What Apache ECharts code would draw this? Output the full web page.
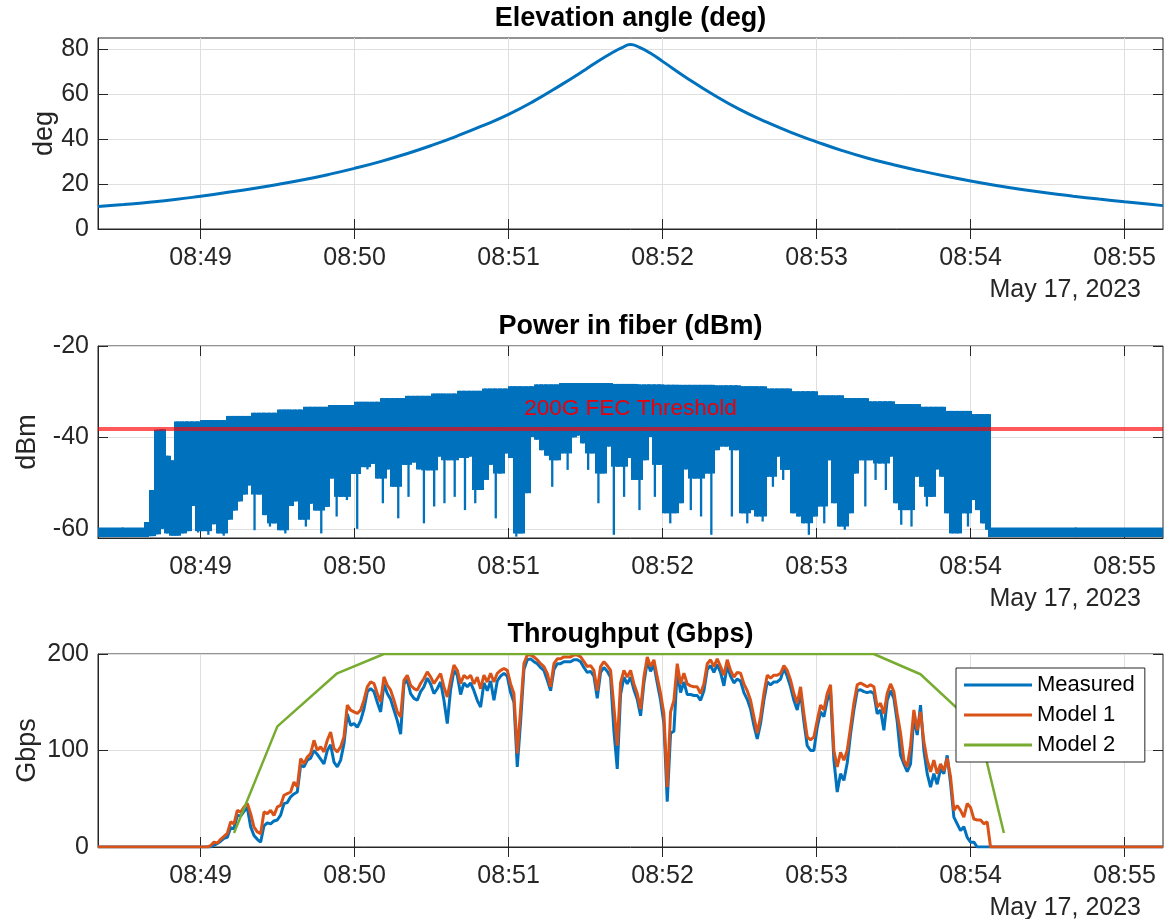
<!DOCTYPE html>
<html>
<head>
<meta charset="utf-8">
<title>Satellite pass</title>
<script src="https://cdn.jsdelivr.net/npm/echarts@6/dist/echarts.min.js"></script>
<style>
html,body{margin:0;padding:0;background:#fff;}
#chart{width:1174px;height:919px;}
</style>
</head>
<body>
<div id="chart"></div>
<script>
//时间单位: 距 08:48:00 的秒数
var xMin = 20, xMax = 435;
var tickTimes = [60, 120, 180, 240, 300, 360, 420];
var tickLabels = ['08:49', '08:50', '08:51', '08:52', '08:53', '08:54', '08:55'];
var dateLabel = 'May 17, 2023';

//仰角 (deg)
var elevTime = [20, 30, 40, 50, 60, 70, 80, 90, 100, 110, 120, 130, 140, 150, 160, 170, 180, 190, 200, 210, 215, 220, 224, 227.5,
	231, 235, 240, 250, 260, 270, 280, 290, 300, 310, 320, 330, 340, 350, 360, 370, 380, 390, 400, 410, 420, 430, 435];
var elevDeg = [10.0, 10.9, 11.9, 13.1, 14.6, 16.2, 17.9, 19.8, 21.9, 24.3, 27.0, 30.0, 33.4, 37.2, 41.4, 46.0, 51.0, 57.0, 63.8, 71.0, 74.8, 78.2, 80.6, 82.1,
	80.8, 78.4, 74.6, 66.8, 59.6, 53.2, 47.8, 43.0, 38.8, 34.9, 31.5, 28.6, 26.0, 23.6, 21.4, 19.4, 17.6, 16.0, 14.6, 13.3, 12.1, 11.0, 10.4];

//光纤功率 (dBm)
var idleTop = -59.7, idleLow = -61.8;
var idleSpans = [[20, 39.2], [367, 435]];
var riseTime = [38, 40, 42, 44, 46, 48];
var riseTop = [-58.5, -51.5, -38.3, -38.2, -44.0, -45.0];
var riseLow = [-61.6, -61.6, -61.2, -60.0, -61.0, -61.5];
var powerStart = 50, powerStep = 2, powerEnd = 367.1;
//上包络, 每10s一个
var powerTopEnv = [-36.5, -36.2, -35.3, -34.6, -33.9, -33.3, -32.9, -32.2, -31.4, -30.9, -30.4, -29.8, -29.3, -28.8, -28.4, -28.1,
	-28.1, -28.3, -28.4, -28.5, -28.5, -28.6, -28.8, -29.3, -29.9, -30.8, -31.4, -32.1, -32.7, -33.3, -34.2, -34.9];
//下包络, 每2s一个
var powerLow = [
	-61.5, -61.0, -60.5, -55.0, -60.8, -60.5, -61.3, -59.0, -61.0, -61.5,
	-58.0, -56.0, -54.0, -52.5, -50.5, -60.3, -52.5, -57.0, -59.5, -58.8,
	-60.3, -61.0, -55.0, -54.0, -58.0, -59.5, -54.5, -56.0, -61.0, -55.2,
	-49.0, -57.3, -53.0, -53.7, -48.0, -60.0, -46.5, -47.0, -45.8, -49.0,
	-54.4, -47.0, -50.8, -57.7, -46.0, -53.0, -45.5, -47.0, -58.8, -47.2,
	-55.1, -44.2, -54.4, -45.0, -53.0, -44.5, -55.9, -44.2, -54.4, -51.5,
	-49.3, -46.0, -57.7, -47.9, -43.5, -44.5, -61.7, -61.0, -52.2, -39.9,
	-40.5, -42.8, -44.0, -50.8, -45.0, -43.5, -47.1, -40.0, -39.6, -41.3,
	-47.1, -43.5, -54.4, -47.9, -42.0, -61.3, -46.4, -53.0, -44.5, -49.3,
	-55.9, -45.0, -39.9, -53.0, -46.0, -56.6, -58.8, -56.6, -54.4, -47.0,
	-55.9, -49.0, -57.3, -47.9, -61.3, -42.8,
	-42.0, -42.0, -57.3, -42.8, -56.6, -58.8, -55.9, -57.3, -58.4, -48.6,
	-50.8, -44.2, -49.3, -47.1, -56.6, -57.3, -58.8, -61.3, -57.3, -55.1,
	-58.8, -45.0, -54.4, -59.5, -60.2, -56.6, -47.9, -45.0, -55.1, -45.0,
	-49.3, -45.7, -51.5, -44.2, -54.4, -59.1, -55.9, -59.5, -48.6, -50.8,
	-55.1, -53.0, -47.0, -48.6, -56.6, -61.0, -61.0, -56.6, -59.5, -53.7,
	-55.9, -58.8, -60.2];
var fecThreshold = -38;
var fecLabel = '200G FEC Threshold';

//吞吐量 (Gbps)
var tpStart = 60, tpStep = 1.2987;
var measured = [
	0, 0, 0, 0, 2, 3.5, 6, 9, 10, 20,
	19, 33, 32, 37, 41, 21, 12, 8, 5, 22,
	25, 24, 27, 28, 33, 45, 46, 52, 55, 57,
	85, 83, 90, 92, 100, 96, 91, 86, 100, 106,
	88, 83, 90, 107, 138, 126, 128, 124, 131, 143,
	161, 164, 161, 150, 140, 169, 159, 153, 142, 131,
	117, 169, 173, 159, 154, 152, 161, 166, 175, 169,
	159, 164, 171, 152, 128, 163, 183, 178, 158, 170,
	166,
	170, 162, 152, 145, 170, 162, 172, 152, 172, 177,
	180, 177, 160, 150, 83, 130, 184, 194, 195, 192,
	190, 186, 183, 173, 162, 184, 190, 190, 192, 192,
	192, 194, 194, 192, 186, 181, 182, 177, 154, 181,
	186, 182, 176, 120, 81, 158, 176, 169, 176, 163,
	153, 136, 170, 192, 182, 189, 170, 152, 128, 47,
	118, 120, 183, 160, 171, 158, 158, 157, 157, 152,
	162, 184, 188, 181, 189, 181, 167, 188, 177, 170,
	174,
	172, 160, 153, 143, 126, 112, 128, 152, 171, 168,
	171, 171, 174, 185, 177, 166, 152, 142, 160, 130,
	105, 100, 100, 124, 140, 135, 152, 160, 90, 57,
	76, 69, 87, 117, 142, 162, 163, 161, 160, 161,
	159, 138, 142, 121, 152, 162, 154, 130, 95, 86,
	78, 86, 135, 116, 147, 100, 76, 62, 76, 65,
	81, 76, 95, 66, 31, 24, 17, 21, 10, 5,
	5, 0, 0, 0, 0, 0];
var model1 = [
	0, 0, 0, 1.5, 5, 4, 8, 11, 14, 26,
	24, 38, 36, 41.5, 45, 34.6, 20.7, 15.6, 13.8, 36.3,
	34.6, 38, 32.8, 41.5, 43.2, 53.6, 55.3, 57, 67.4, 62.2,
	91.6, 86.4, 93.3, 96.8, 110.6, 100.3, 103.7, 98.5, 110.6, 119.2,
	102, 98.5, 103.7, 114.1, 147, 141.8, 140.1, 138.4, 141.8, 152.2,
	165.9, 171.1, 169.4, 159.1, 150.4, 176.3, 167.6, 162.5, 152.2, 140.1,
	134.9, 172.8, 178, 167.6, 164.2, 162.5, 169.4, 174.6, 181.5, 176.3,
	169.4, 174.6, 179.7, 165.9, 155.5, 172.8, 188.4, 183.2, 169.4, 178,
	174.6,
	178, 169, 176, 164, 178, 171, 180, 171, 180, 183,
	185, 183, 169, 159, 97, 142, 190, 199, 199, 197,
	194, 190, 187, 180, 166, 190, 195, 195, 197, 197,
	197, 199, 199, 197, 192, 187, 188, 183, 162, 187,
	192, 188, 183, 145, 105, 170, 183, 176, 183, 169,
	159, 143, 176, 197, 187, 194, 176, 159, 138, 62,
	140, 152, 190, 169, 180, 169, 167, 166, 166, 159,
	169, 190, 194, 187, 195, 187, 178, 194, 183, 176,
	181,
	180, 169, 162, 152, 135, 118, 135, 159, 178, 175,
	178, 178, 180, 188, 183, 173, 159, 149, 166, 138,
	114, 111, 114, 131, 147, 142, 159, 168, 100, 83,
	98, 90, 100, 124, 149, 168, 170, 168, 166, 168,
	166, 145, 149, 138, 159, 169, 161, 138, 118, 90,
	83, 105, 142, 121, 140, 109, 90, 78, 90, 76,
	86, 79, 92, 73, 38, 43, 38, 31, 45, 41,
	29, 28, 28, 24, 26, 0];
var model2Time = [73, 89.9, 113.2, 131.4, 322.3, 340.5, 363.2, 373];
var model2 = [14.5, 125, 180, 200, 200, 179, 123, 14.5];

//颜色
var BLUE = '#0072BD', ORANGE = '#D95319', GREEN = '#77AC30';
var AXIS = '#262626', GRID = '#dfdfdf';
var FONT = '"Liberation Sans", Arial, Helvetica, sans-serif';

//三个子图的位置
var panels = [
	{ top: 38, height: 191, title: 'Elevation angle (deg)', unit: 'deg', min: 0, max: 85, ticks: [0, 20, 40, 60, 80], nameGap: 40 },
	{ top: 346, height: 192, title: 'Power in fiber (dBm)', unit: 'dBm', min: -62, max: -20, ticks: [-60, -40, -20], nameGap: 57 },
	{ top: 654, height: 193, title: 'Throughput (Gbps)', unit: 'Gbps', min: 0, max: 200, ticks: [0, 100, 200], nameGap: 57 }
];
var plotLeft = 98, plotRight = 1163;
var spikeWidth = 0.9;

function pairs(xs, ys) {
	var out = [];
	for (var i = 0; i < ys.length; i++) out.push([xs[i], ys[i]]);
	return out;
}

function sampled(start, step, ys) {
	var out = [[xMin, 0]];
	for (var i = 0; i < ys.length; i++) out.push([start + i * step, ys[i]]);
	out.push([xMax, 0]);
	return out;
}

//功率数据: 每段 [t0, t1, 上, 尖峰下沿, 主体下沿]
//局部最低的段画成细尖峰, 主体只到较深的邻段
function buildPowerItems() {
	var items = [];
	idleSpans.forEach(function (s) { items.push([s[0], s[1], idleTop, idleLow, idleLow]); });
	for (var i = 0; i < riseTime.length; i++) {
		items.push([riseTime[i], riseTime[i] + 2, riseTop[i], riseLow[i], riseLow[i]]);
	}
	for (var j = 0; j < powerLow.length; j++) {
		var t0 = powerStart + j * powerStep;
		var t1 = Math.min(t0 + powerStep, powerEnd + 0.5);
		var low = powerLow[j];
		var prev = j > 0 ? powerLow[j - 1] : low;
		var next = j < powerLow.length - 1 ? powerLow[j + 1] : low;
		var body = (low < prev && low < next) ? Math.min(prev, next) : low;
		items.push([t0, t1, powerTopEnv[Math.floor(j / 5)], low, body]);
	}
	return items;
}

function renderPowerItem(params, api) {
	var t0 = api.value(0), t1 = api.value(1), top = api.value(2);
	var a = api.coord([t0, top]), b = api.coord([t1, api.value(4)]);
	var tc = (t0 + t1) / 2;
	var c = api.coord([tc - spikeWidth / 2, top]), d = api.coord([tc + spikeWidth / 2, api.value(3)]);
	return {
		type: 'group',
		children: [
			{ type: 'rect', shape: { x: Math.floor(a[0]), y: a[1], width: Math.ceil(b[0] - a[0]) + 1, height: b[1] - a[1] }, style: { fill: BLUE } },
			{ type: 'rect', shape: { x: c[0], y: c[1], width: d[0] - c[0], height: d[1] - c[1] }, style: { fill: BLUE } }
		]
	};
}

function tickLabel(v) {
	var i = tickTimes.indexOf(v);
	return i >= 0 ? tickLabels[i] : '';
}

var grids = [], xAxes = [], yAxes = [], graphics = [];
panels.forEach(function (p, i) {
	grids.push({ left: plotLeft, right: 1174 - plotRight, top: p.top, height: p.height, show: true, borderColor: AXIS, borderWidth: 1 });
	xAxes.push({
		type: 'value', gridIndex: i, min: xMin, max: xMax, position: 'bottom',
		axisLine: { show: true, onZero: false, lineStyle: { color: AXIS, width: 1 } },
		axisTick: { show: true, inside: true, length: 10, customValues: tickTimes, lineStyle: { color: AXIS } },
		axisLabel: { show: true, customValues: tickTimes, formatter: tickLabel, margin: 17, fontSize: 25, color: AXIS, fontFamily: FONT },
		splitLine: { show: true, lineStyle: { color: GRID, width: 1 } }
	});
	yAxes.push({
		type: 'value', gridIndex: i, min: p.min, max: p.max, position: 'left',
		name: p.unit, nameLocation: 'middle', nameGap: p.nameGap, nameRotate: 90, nameMoveOverlap: false,
		nameTextStyle: { fontSize: 27, color: AXIS, fontFamily: FONT },
		axisLine: { show: true, lineStyle: { color: AXIS, width: 1 } },
		axisTick: { show: true, inside: true, length: 10, customValues: p.ticks, lineStyle: { color: AXIS } },
		axisLabel: { show: true, customValues: p.ticks, margin: 9, fontSize: 25, color: AXIS, fontFamily: FONT },
		splitLine: { show: true, lineStyle: { color: GRID, width: 1 } }
	});
	graphics.push({
		type: 'text', x: (plotLeft + plotRight) / 2, y: p.top - 19, z: 10,
		style: { text: p.title, align: 'center', verticalAlign: 'middle', fill: '#000', font: 'bold 27px ' + FONT }
	});
	graphics.push({
		type: 'text', x: 1141, y: p.top + p.height + 61, z: 10,
		style: { text: dateLabel, align: 'right', verticalAlign: 'middle', fill: AXIS, font: '25px ' + FONT }
	});
});
//上边和右边的刻度
panels.forEach(function (p, i) {
	xAxes.push({
		type: 'value', gridIndex: i, min: xMin, max: xMax, position: 'top',
		axisLine: { show: false }, axisLabel: { show: false }, splitLine: { show: false },
		axisTick: { show: true, inside: true, length: 10, customValues: tickTimes, lineStyle: { color: AXIS } }
	});
	yAxes.push({
		type: 'value', gridIndex: i, min: p.min, max: p.max, position: 'right',
		axisLine: { show: false }, axisLabel: { show: false }, splitLine: { show: false },
		axisTick: { show: true, inside: true, length: 10, customValues: p.ticks, lineStyle: { color: AXIS } }
	});
});

var myChart = echarts.init(document.getElementById('chart'), null, { renderer: 'canvas' });
myChart.setOption({
	animation: false,
	backgroundColor: '#fff',
	textStyle: { fontFamily: FONT },
	grid: grids,
	xAxis: xAxes,
	yAxis: yAxes,
	graphic: graphics,
	legend: {
		data: ['Measured', 'Model 1', 'Model 2'],
		orient: 'vertical', left: 956, top: 668, icon: 'rect',
		backgroundColor: '#fff', borderColor: AXIS, borderWidth: 1, borderRadius: 0,
		padding: [6, 10, 6, 8], itemWidth: 68, itemHeight: 3, itemGap: 8,
		textStyle: { fontSize: 22, color: '#000', fontFamily: FONT }
	},
	series: [
		{
			name: 'Elevation', type: 'line', xAxisIndex: 0, yAxisIndex: 0,
			data: pairs(elevTime, elevDeg), smooth: 0.5, symbol: 'none',
			lineStyle: { color: BLUE, width: 3 }
		},
		{
			name: 'Power', type: 'custom', xAxisIndex: 1, yAxisIndex: 1, clip: true,
			data: buildPowerItems(), encode: { x: [0, 1], y: [2, 3, 4] }, renderItem: renderPowerItem
		},
		{
			name: 'FEC', type: 'line', xAxisIndex: 1, yAxisIndex: 1, data: [], z: 5,
			markLine: {
				silent: true, symbol: ['none', 'none'],
				data: [{ yAxis: fecThreshold }],
				lineStyle: { color: 'rgba(255,0,0,0.65)', width: 4, type: 'solid' },
				label: { show: true, position: 'insideMiddleTop', formatter: fecLabel, distance: 8, color: '#e8000b', fontSize: 22.5, fontFamily: FONT }
			}
		},
		{
			name: 'Measured', type: 'line', xAxisIndex: 2, yAxisIndex: 2,
			data: sampled(tpStart, tpStep, measured), symbol: 'none', color: BLUE,
			lineStyle: { color: BLUE, width: 3 }
		},
		{
			name: 'Model 1', type: 'line', xAxisIndex: 2, yAxisIndex: 2,
			data: sampled(tpStart, tpStep, model1), symbol: 'none', color: ORANGE,
			lineStyle: { color: ORANGE, width: 3 }
		},
		{
			name: 'Model 2', type: 'line', xAxisIndex: 2, yAxisIndex: 2,
			data: pairs(model2Time, model2), symbol: 'none', color: GREEN,
			lineStyle: { color: GREEN, width: 2.5 }
		}
	]
});
</script>
</body>
</html>
